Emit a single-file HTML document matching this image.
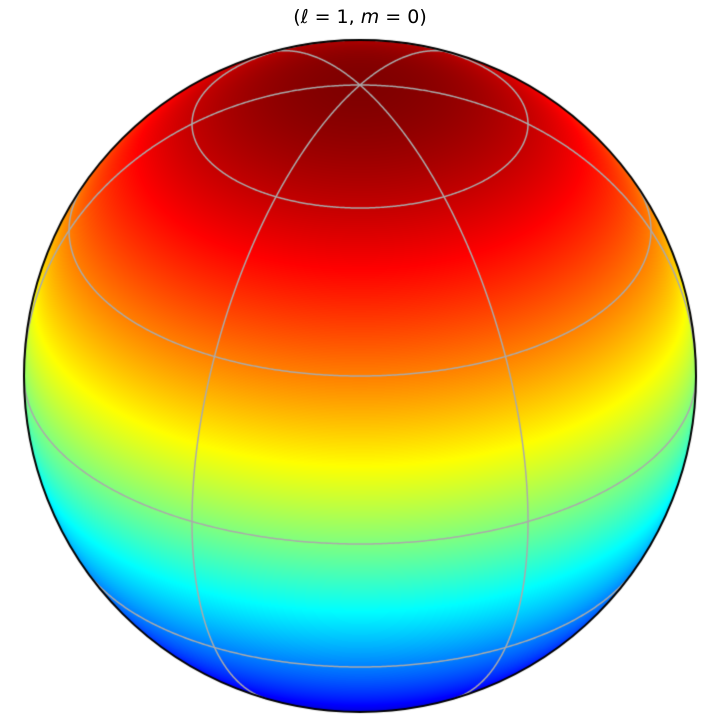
<!DOCTYPE html>
<html><head><meta charset="utf-8"><style>
html,body{margin:0;padding:0;background:#fff;}
#wrap{position:relative;width:720px;height:720px;}
#title{position:absolute;left:0;top:6px;width:720px;text-align:center;font-family:"DejaVu Sans","Liberation Sans",sans-serif;font-size:19px;color:#000;}
canvas{position:absolute;left:0;top:0;}
</style></head><body>
<div id="wrap">
<canvas id="c" width="720" height="720"></canvas>
<div id="title">(<i>ℓ</i> = 1, <i>m</i> = 0)</div>
</div>
<script>
const degree = [1];
const order = [0];
const gridLatitudes = [-60, -30, 0, 30, 60];
const gridLongitudes = [-150, -90, -30, 30, 90, 150];
const viewElevation = [30];

const cx = 360, cy = 376, R = 336;
const e = viewElevation[0] * Math.PI / 180;
const ce = Math.cos(e), se = Math.sin(e);
const cv = document.getElementById('c');
const ctx = cv.getContext('2d');
function clip(v){return Math.max(0,Math.min(1,v));}
function jet(x){return [clip(1.5-Math.abs(4*x-3)),clip(1.5-Math.abs(4*x-2)),clip(1.5-Math.abs(4*x-1))];}
// Y_1^0 ~ cos(theta) = z
function value(z){return degree[0]===1 && order[0]===0 ? z : z;}
const img = ctx.createImageData(720,720);
for(let py=0;py<720;py++){for(let px=0;px<720;px++){
  const u=(px+0.5-cx)/R, v=(cy-py-0.5)/R, r2=u*u+v*v;
  if(r2>1) continue;
  const w=Math.sqrt(1-r2);
  const z=v*ce+w*se;
  const c=jet((value(z)+1)/2);
  const i=(py*720+px)*4;
  img.data[i]=c[0]*255;img.data[i+1]=c[1]*255;img.data[i+2]=c[2]*255;img.data[i+3]=255;
}}
ctx.putImageData(img,0,0);
function proj(lat,lon){
  const la=lat*Math.PI/180, lo=lon*Math.PI/180;
  const X=Math.cos(la)*Math.sin(lo), Y=Math.cos(la)*Math.cos(lo), Z=Math.sin(la);
  return {x:cx+R*X, y:cy-R*(Z*ce-Y*se), d:Y*ce+Z*se};
}
ctx.strokeStyle='#aaaaaa';ctx.lineWidth=1.5;
function drawCurve(fn){
  let pen=false;ctx.beginPath();
  for(let t=0;t<=720;t++){const p=fn(t);
    if(p.d>=0){ if(pen) ctx.lineTo(p.x,p.y); else {ctx.moveTo(p.x,p.y);pen=true;} } else pen=false;}
  ctx.stroke();
}
gridLatitudes.forEach(lat=>drawCurve(t=>proj(lat,t/2)));
gridLongitudes.forEach(lon=>drawCurve(t=>proj(-90+t/4,lon)));
ctx.strokeStyle='#000';ctx.lineWidth=2;
ctx.beginPath();ctx.arc(cx,cy,R,0,Math.PI*2);ctx.stroke();
</script>
</body></html>
